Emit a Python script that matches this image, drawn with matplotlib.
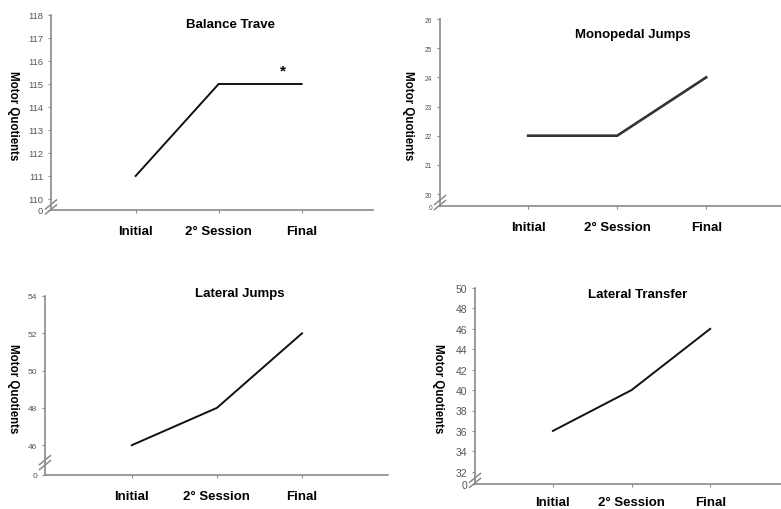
import matplotlib
matplotlib.use("Agg")
import matplotlib.pyplot as plt

plt.rcParams["font.family"] = ["Liberation Sans", "DejaVu Sans"]

sessions = ["Initial", "2\u00b0 Session", "Final"]

balance = [111, 115, 115]
monopedal = [22, 22, 24]
lateral_jumps = [46, 48, 52]
lateral_transfer = [36, 40, 46]

balance_ticks = [110, 111, 112, 113, 114, 115, 116, 117, 118]
monopedal_ticks = [20, 21, 22, 23, 24, 25, 26]
lateral_jumps_ticks = [46, 48, 50, 52, 54]
lateral_transfer_ticks = [32, 34, 36, 38, 40, 42, 44, 46, 48, 50]

W, H = 781, 510
fig = plt.figure(figsize=(W / 100, H / 100), dpi=100)

spine_col = "#8a8a8a"
tick_col = "#555555"

# (title, values, ticks, axis floor, box px [left, top, right, bottom], xlim,
#  title pos, tick font size, ylabel x px, line width, xlabel pad)
panels = [
    ("Balance Trave", balance, balance_ticks, 109.52, (51, 16, 373, 211),
     (-1.02, 2.86), (0.556, 0.955), 6.8, 13, 1.4, 8),
    ("Monopedal Jumps", monopedal, monopedal_ticks, 19.59, (440, 20, 781, 207),
     (-0.99, 2.84), (0.566, 0.92), 4.8, 408, 1.9, 8),
    ("Lateral Jumps", lateral_jumps, lateral_jumps_ticks, 44.4, (45, 297, 388, 476),
     (-1.02, 3.01), (0.569, 1.015), 6, 13, 1.4, 8),
    ("Lateral Transfer", lateral_transfer, lateral_transfer_ticks, 30.8, (475, 289, 781, 485),
     (-0.99, 2.9), (0.53, 0.97), 7.5, 438, 1.4, 6.5),
]

axes = []
for title, vals, ticks, floor, box, xlim, tpos, tfs, ylx, lw, xpad in panels:
    l, t, r, b = box
    ax = fig.add_axes([l / W, (H - b) / H, (r - l) / W, (b - t) / H])
    axes.append(ax)
    x = list(range(len(sessions)))
    ax.plot(x, vals, color="#111111" if lw < 1.5 else "#333333", lw=lw,
            solid_joinstyle="miter")
    ax.set_xlim(*xlim)
    ax.set_ylim(floor, ticks[-1])
    ax.set_xticks(x)
    ax.set_xticklabels(sessions, fontsize=9.5, fontweight="bold")
    ax.set_yticks([floor] + ticks)
    ax.set_yticklabels(["0"] + [str(v) for v in ticks])
    ax.tick_params(axis="y", length=2.5, width=0.8, color=spine_col,
                   labelsize=tfs, labelcolor=tick_col, pad=3)
    ax.tick_params(axis="x", length=2.5, width=0.8, color=spine_col, pad=xpad)
    for s in ["top", "right"]:
        ax.spines[s].set_visible(False)
    for s in ["left", "bottom"]:
        ax.spines[s].set_color(spine_col)
        ax.spines[s].set_linewidth(1.2)
    ax.text(tpos[0], tpos[1], title, transform=ax.transAxes, ha="center",
            va="center", fontsize=9.5, fontweight="bold")

    # broken axis marks between the zero label and the first real tick
    wpx, hpx = r - l, b - t
    yb = (ticks[0] - floor) / (ticks[-1] - floor) * 0.5
    for off in (0.0, -5.0 / hpx):
        ax.plot([-5.5 / wpx, 5.5 / wpx],
                [yb + off - 4.5 / hpx, yb + off + 4.5 / hpx],
                transform=ax.transAxes, color=spine_col, lw=1.1, clip_on=False)

    cy = (t + b) / 2 + 2
    fig.text(ylx / W, 1 - cy / H, "Motor Quotients", rotation=270,
             ha="center", va="center", fontsize=8.3, fontweight="bold")

axes[0].text(1.78, 115.3, "*", ha="center", va="bottom", fontsize=11,
             fontweight="bold")

plt.savefig("out.png", dpi=100)
